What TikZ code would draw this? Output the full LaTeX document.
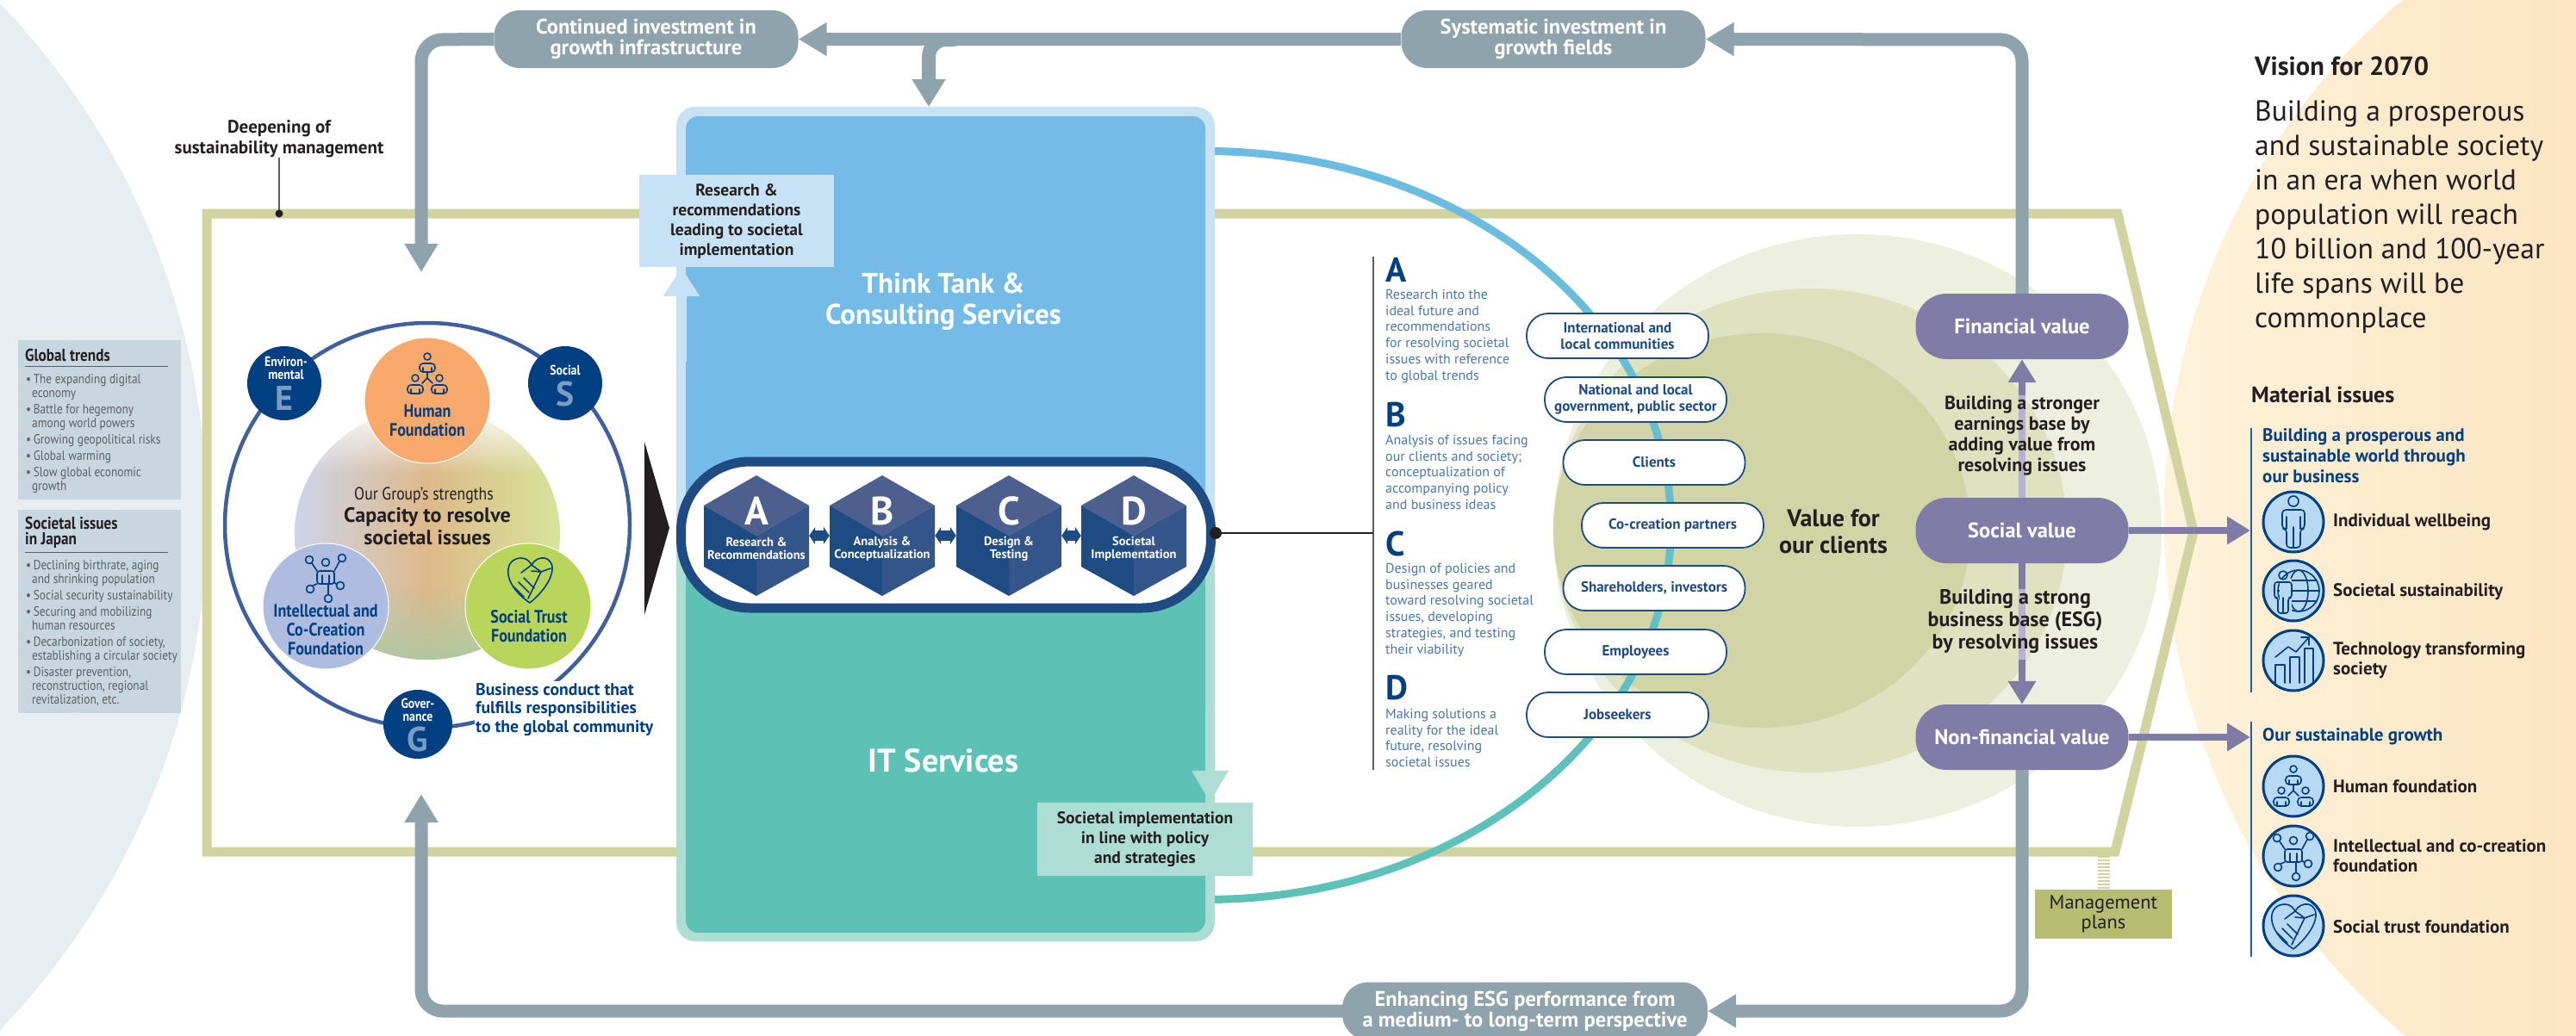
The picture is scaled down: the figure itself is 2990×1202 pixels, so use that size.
\documentclass[tikz,border=0pt]{standalone}
\usepackage{fontspec}
\setmainfont{PT Sans}
\newfontfamily\condfont[FakeStretch=0.86]{PT Sans}
\usetikzlibrary{arrows.meta,fadings}

\definecolor{paleblue}{HTML}{E6EEF2}
\definecolor{creamleft}{HTML}{FEF3DC}
\definecolor{creamright}{HTML}{FDE5C2}
\definecolor{frameolive}{HTML}{D1D4A0}
\definecolor{loopgrey}{HTML}{8EA3AB}
\definecolor{panelgrey}{HTML}{C8D6DF}
\definecolor{inktext}{HTML}{231F20}
\definecolor{softtext}{HTML}{5A5F63}
\definecolor{navy}{HTML}{003F82}
\definecolor{ringblue}{HTML}{3F5F9E}
\definecolor{lettertint}{HTML}{7C9CC4}
\definecolor{cubeleft}{HTML}{1E4B82}
\definecolor{cuberight}{HTML}{33558A}
\definecolor{cubetop}{HTML}{4C5F8E}
\definecolor{thinkblue}{HTML}{74BBE8}
\definecolor{thinkedge}{HTML}{C8E2F5}
\definecolor{itteal}{HTML}{5EC1B5}
\definecolor{itedge}{HTML}{AEDDD4}
\definecolor{curveblue}{HTML}{6CBCE3}
\definecolor{steptext}{HTML}{4A76A8}
\definecolor{valueouter}{HTML}{EDF0DE}
\definecolor{valuemiddle}{HTML}{DFE2C0}
\definecolor{valueinner}{HTML}{D1D4A5}
\definecolor{valuepurple}{HTML}{817BA7}
\definecolor{valuelight}{HTML}{B6B2D3}
\definecolor{planolive}{HTML}{B6BD72}
\definecolor{iconfill}{HTML}{B8D9F3}
\definecolor{issueline}{HTML}{1E5FA0}
\definecolor{humanorange}{HTML}{F9A96C}
\definecolor{intellilac}{HTML}{AEBCE0}
\definecolor{trustgreen}{HTML}{BAD55C}
\definecolor{blobleft}{HTML}{CFD4EA}
\definecolor{blobmid}{HTML}{DDB98A}
\definecolor{blobright}{HTML}{D6E49A}
\definecolor{blobfoot}{HTML}{AEC8A2}

\newcommand{\personmark}[2]{%
    \draw (#1,#2-8) circle (4pt);
    \draw[rounded corners=4pt] (#1-9,#2+10) -- (#1-9,#2+0) -- (#1+9,#2+0) -- (#1+9,#2+10) -- cycle;
    \draw (#1-5,#2+5) -- (#1-5,#2+10) (#1+5,#2+5) -- (#1+5,#2+10);
}

\tikzset{
    lineicon/.style={draw=navy, line width=1.6pt, line cap=round, line join=round},
    humanicon/.pic={
        \begin{scope}[lineicon]
            \personmark{0}{-12}
            \personmark{-14}{13}
            \personmark{14}{13}
            \draw (0,-1) -- (0,5) -- (-6,11) (0,5) -- (6,11);
        \end{scope}
    },
    networkicon/.pic={
        \begin{scope}[lineicon]
            \draw (0,-18) circle (4.5pt) (-19,-21) circle (4.5pt) (19,-23) circle (4.5pt)
                (-18,13) circle (4.5pt) (17,9) circle (4.5pt) (3,24) circle (4.5pt);
            \draw[rounded corners=3pt] (-10,7) -- (-10,-8) -- (10,-8) -- (10,7) -- cycle;
            \draw (-16,-17) -- (-10,-8) (16,-19) -- (10,-8) (-15,9) -- (-10,7) (13,8) -- (10,5)
                (3,19) -- (3,7) (-4,-3) -- (-4,7) (4,-3) -- (4,7);
        \end{scope}
    },
    trusticon/.pic={
        \begin{scope}[lineicon]
            \draw (0,27) .. controls (-34,4) and (-30,-25) .. (-10,-25) .. controls (-4,-25) and (0,-21) .. (2,-17)
                .. controls (5,-23) and (12,-26) .. (17,-25) .. controls (33,-21) and (28,4) .. (0,27);
            \draw (-10,-8) -- (2,-17) -- (13,-9) -- (24,-13) (2,-10) -- (13,-9) -- (-2,22)
                (-19,8) -- (-7,20) (-13,3) -- (-1,15) (-7,-2) -- (5,10);
        \end{scope}
    },
    bodyicon/.pic={
        \begin{scope}[lineicon]
            \draw (0,-24) circle (6pt);
            \draw[rounded corners=4pt] (-13,8) -- (-13,-14) -- (13,-14) -- (13,8) -- (8,8) -- (8,30) -- (-8,30) -- (-8,8) -- cycle;
            \draw (0,6) -- (0,30) (-8,-6) -- (-8,8) (8,-6) -- (8,8);
        \end{scope}
    },
    globeicon/.pic={
        \begin{scope}[lineicon]
            \draw (6,0) circle (24pt);
            \draw (6,0) ellipse [x radius=11pt, y radius=24pt];
            \draw (-18,0) -- (30,0) (-15,-12) -- (27,-12) (-15,12) -- (27,12);
            \fill[iconfill] (-16,-14) rectangle (-2,26);
            \draw (-12,-18) circle (5pt);
            \draw[rounded corners=3pt] (-22,8) -- (-22,-10) -- (-2,-10) -- (-2,8) -- (-6,8) -- (-6,26) -- (-18,26) -- (-18,8) -- cycle;
            \draw (-12,8) -- (-12,26);
        \end{scope}
    },
    charticon/.pic={
        \begin{scope}[lineicon]
            \draw (-21,26) -- (-21,5) -- (-10,5) -- (-10,26) (-4,26) -- (-4,-4) -- (7,-4) -- (7,26)
                (13,26) -- (13,-14) -- (23,-14) -- (23,26);
            \draw (-21,-4) -- (-6,-16) -- (3,-10) -- (18,-27);
            \draw (9,-27) -- (18,-27) -- (18,-18);
        \end{scope}
    },
    looparrow/.style={draw=loopgrey, line width=15pt, rounded corners=25pt, -{Triangle[length=33pt,width=37pt]}},
    pillgrey/.style={fill=loopgrey, text=white, rounded corners=30pt, minimum width=#1, minimum height=67pt,
        inner sep=0pt, align=center, font=\bfseries\fontsize{24.5}{24}\selectfont},
    stakepill/.style={draw=cubeleft, fill=white, line width=1.8pt, rounded corners=25pt, minimum width=211pt,
        minimum height=52pt, inner sep=0pt, align=center, text=cubeleft, font=\bfseries\fontsize{17}{19}\selectfont},
    valuepill/.style={fill=valuepurple, text=white, rounded corners=36pt, minimum width=247pt, minimum height=76pt,
        inner sep=0pt, font=\bfseries\fontsize{24.5}{26}\selectfont},
    valuearrow/.style={draw=valuepurple, line width=8pt, -{Triangle[length=27pt,width=31pt]}},
    valuetext/.style={inner sep=0pt, align=center, text=inktext, font=\bfseries\fontsize{22}{24}\selectfont},
    foundation/.style={circle, draw=white, line width=1pt, minimum size=146pt, inner sep=0pt},
    foundationtext/.style={inner sep=0pt, align=center, text=navy, font=\condfont\bfseries\fontsize{21}{22}\selectfont},
    esgbadge/.style={circle, fill=navy, minimum size=#1, inner sep=0pt},
    esgtext/.style={inner sep=0pt, align=center, text=white, font=\condfont\bfseries\fontsize{16}{15}\selectfont},
    esgletter/.style={inner sep=0pt, text=lettertint, font=\bfseries\fontsize{40}{40}\selectfont},
    panel/.style={fill=panelgrey, inner sep=0pt},
    paneltitle/.style={anchor=west, inner sep=0pt, align=left, text=inktext, font=\condfont\bfseries\fontsize{20}{18}\selectfont},
    paneltext/.style={anchor=north west, inner sep=0pt, align=left, text=softtext, font=\condfont\fontsize{15.5}{16}\selectfont},
    callbox/.style={inner sep=0pt, align=center, text=inktext, font=\bfseries\fontsize{19.5}{23}\selectfont},
    stepletter/.style={anchor=west, inner sep=0pt, text=navy, font=\bfseries\fontsize{40}{40}\selectfont},
    steptextbox/.style={anchor=north west, inner sep=0pt, align=left, text=steptext, font=\fontsize{16}{18.7}\selectfont},
    iconring/.style={circle, draw=navy, fill=iconfill, line width=3pt, minimum size=70pt, inner sep=0pt},
    issuetext/.style={anchor=west, inner sep=0pt, align=left, text=inktext, font=\bfseries\fontsize{21}{23}\selectfont},
    issuehead/.style={anchor=north west, inner sep=0pt, align=left, text=navy, font=\bfseries\fontsize{21}{24}\selectfont},
}

\begin{document}
\begin{tikzpicture}[x=1pt, y=-1pt]
    \clip (0,0) rectangle (2990,1202);

    % backgrounds
    \fill[paleblue] (-620,600) circle (860pt);
    \begin{scope}
        \clip (3302,600) circle (790pt);
        \shade[left color=creamleft, right color=creamright] (2500,0) rectangle (2990,1202);
    \end{scope}
    \fill[valueouter] (2156,616) ellipse [x radius=353pt, y radius=344pt];
    \fill[valuemiddle] (2101,616) ellipse [x radius=298pt, y radius=281pt];
    \fill[valueinner] (2045,616) ellipse [x radius=242pt, y radius=229pt];

    % management frame
    \draw[frameolive, line width=11pt, miter limit=10] (240,248) -- (2458,248) -- (2546,617) -- (2455,989) -- (240,989) -- cycle;

    % curve through the stakeholders
    \begin{scope}
        \clip (1400,150) rectangle (2000,1060);
        \shade[even odd rule, top color=curveblue, bottom color=itteal]
            (1400,610) ellipse [x radius=544pt, y radius=439pt]
            (1400,610) ellipse [x radius=535pt, y radius=430pt];
    \end{scope}

    % service block
    \fill[thinkedge] (785,621) [rounded corners=22pt] -- (785,124) -- (1410,124) [sharp corners] -- (1410,621) -- cycle;
    \fill[itedge] (785,621) [rounded corners=22pt] -- (785,1093) -- (1410,1093) [sharp corners] -- (1410,621) -- cycle;
    \fill[thinkblue] (796,621) [rounded corners=14pt] -- (796,135) -- (1399,135) [sharp corners] -- (1399,621) -- cycle;
    \fill[itteal] (796,621) [rounded corners=14pt] -- (796,1083) -- (1399,1083) [sharp corners] -- (1399,621) -- cycle;

    \node[inner sep=0pt, align=center, text=white, font=\bfseries\fontsize{33}{33}\selectfont] (thinktank) at (1095,350) {Think Tank \&\\[3pt]Consulting Services};
    \node[inner sep=0pt, text=white, font=\bfseries\fontsize{38}{38}\selectfont] (itservices) at (1095,883) {IT Services};

    % callouts on the block
    \coordinate (thinkstrip) at (791,420);
    \coordinate (itstrip) at (1404.5,820);
    \node[fill=thinkedge, minimum width=226pt, minimum height=107pt, callbox] (research) at (855,256.5) {Research \&\\recommendations\\leading to societal\\implementation};
    \node[fill=itedge, minimum width=250pt, minimum height=85pt, callbox] (implement) at (1329,974.5) {Societal implementation\\in line with policy\\and strategies};
    \draw[thinkedge, line width=11pt, -{Triangle[length=34pt,width=40pt]}] (thinkstrip) -- (thinkstrip |- research.south);
    \draw[itedge, line width=11pt, -{Triangle[length=37pt,width=40pt]}] (itstrip) -- (itstrip |- implement.north);

    % pill with the four cubes
    \fill[inktext] (748,513) -- (777,613) -- (748,714) -- cycle;
    \node[draw=cubeleft, fill=white, line width=11pt, rounded corners=80pt, minimum width=615pt, minimum height=170pt, inner sep=0pt] (cubepill) at (1098,621) {};
    \foreach \x/\name/\letter/\words in {878/A/A/{Research \&\\Recommendations}, 1024/B/B/{Analysis \&\\Conceptualization}, 1171/C/C/{Design \&\\Testing}, 1316/D/D/{Societal\\Implementation}} {
        \fill[cubetop] (\x,552) -- (\x+61,587) -- (\x,622) -- (\x-61,587) -- cycle;
        \fill[cubeleft] (\x-61,587) -- (\x,622) -- (\x,692) -- (\x-61,658) -- cycle;
        \fill[cuberight] (\x+61,587) -- (\x,622) -- (\x,692) -- (\x+61,658) -- cycle;
        \node[minimum width=122pt, minimum height=140pt, inner sep=0pt] (cube\name) at (\x,622) {};
        \node[inner sep=0pt, text=white, font=\bfseries\fontsize{46}{46}\selectfont] (letter\name) at (\x,593) {\letter};
        \node[inner sep=0pt, align=center, text=white, font=\bfseries\fontsize{14.5}{15}\selectfont] (label\name) at (\x,637) {\words};
    }
    \draw[cubeleft, line width=12pt, {Triangle[length=7pt,width=20pt]}-{Triangle[length=7pt,width=20pt]}] (cubeA.east) -- (cubeB.west);
    \draw[cubeleft, line width=12pt, {Triangle[length=7pt,width=20pt]}-{Triangle[length=7pt,width=20pt]}] (cubeB.east) -- (cubeC.west);
    \draw[cubeleft, line width=12pt, {Triangle[length=7pt,width=20pt]}-{Triangle[length=7pt,width=20pt]}] (cubeC.east) -- (cubeD.west);

    % steps A to D
    \coordinate (stepstop) at (1594,298);
    \coordinate (stepsbottom) at (1594,894);
    \coordinate (stepsjoin) at (1594,619);
    \draw[softtext, line width=1.6pt] (stepstop) -- (stepsbottom);
    \draw[inktext, line width=1.2pt] (cubepill.east |- stepsjoin) -- (stepsjoin);
    \fill[inktext] (cubepill.east |- stepsjoin) circle (7pt);
    \node[stepletter] (stepA) at (1608,313) {A};
    \node[steptextbox] (stepAtext) at (1608,336) {Research into the\\ideal future and\\recommendations\\for resolving societal\\issues with reference\\to global trends};
    \node[stepletter] (stepB) at (1608,481) {B};
    \node[steptextbox] (stepBtext) at (1608,505) {Analysis of issues facing\\our clients and society;\\conceptualization of\\accompanying policy\\and business ideas};
    \node[stepletter] (stepC) at (1608,631) {C};
    \node[steptextbox] (stepCtext) at (1608,654) {Design of policies and\\businesses geared\\toward resolving societal\\issues, developing\\strategies, and testing\\their viability};
    \node[stepletter] (stepD) at (1608,799) {D};
    \node[steptextbox] (stepDtext) at (1608,823) {Making solutions a\\reality for the ideal\\future, resolving\\societal issues};

    % stakeholders
    \node[stakepill] (communities) at (1877.5,390) {International and\\local communities};
    \node[stakepill] (government) at (1898.5,464) {National and local\\government, public sector};
    \node[stakepill] (clients) at (1920,537) {Clients};
    \node[stakepill] (partners) at (1941.5,610) {Co-creation partners};
    \node[stakepill] (investors) at (1920,683) {Shareholders, investors};
    \node[stakepill] (employees) at (1898.5,757) {Employees};
    \node[stakepill] (jobseekers) at (1877.5,830) {Jobseekers};
    \node[inner sep=0pt, align=center, text=inktext, font=\bfseries\fontsize{28}{31}\selectfont] (clientvalue) at (2128,617) {Value for\\our clients};

    % values
    \node[valuepill] (finval) at (2347,379) {Financial value};
    \node[valuepill] (social) at (2347,616) {Social value};
    \node[valuepill] (nonfin) at (2347,856) {Non-financial value};
    \node[pillgrey=353pt] (continued) at (750,45.5) {Continued investment in\\growth infrastructure};
    \node[pillgrey=353pt] (systematic) at (1803,45.5) {Systematic investment in\\growth fields};
    \node[pillgrey=424pt] (enhancing) at (1770,1174) {Enhancing ESG performance from\\a medium- to long-term perspective};

    \coordinate (capacity) at (489,316);
    \coordinate (governbase) at (489,922);
    \coordinate (boxtop) at (1078,124);
    \coordinate (branch) at (1110,46);
    \draw[looparrow] (finval.north) -- (2347,46) -- (systematic.east);
    \draw[looparrow] (systematic.west) -- (continued.east);
    \draw[looparrow] (continued.west) -- (489,46) -- (capacity);
    \draw[looparrow] (nonfin.south) -- (2347,1174) -- (enhancing.east);
    \draw[looparrow] (enhancing.west) -- (489,1174) -- (governbase);
    \draw[loopgrey, line width=16pt, rounded corners=20pt, -{Triangle[length=32pt,width=37pt]}] (branch) -- (1078,46) -- (boxtop);

    \coordinate (issuesjoin) at (2612,616);
    \coordinate (growthjoin) at (2612,856);
    \coordinate (strongstart) at (2347,459);
    \coordinate (basestart) at (2347,684);
    \coordinate (baseend) at (2347,766);
    \draw[valuearrow] (social.north) -- (finval.south);
    \draw[valuearrow] (social.south) -- (nonfin.north);
    \draw[valuearrow] (social.east) -- (issuesjoin);
    \draw[valuearrow] (nonfin.east) -- (growthjoin);
    \draw[valuelight, line width=8pt] (strongstart) -- (social.north);
    \draw[valuelight, line width=8pt] (basestart) -- (baseend);
    \node[valuetext] (strongtext) at (2347,506.5) {Building a stronger\\earnings base by\\adding value from\\resolving issues};
    \node[inner sep=0pt, align=center, text=inktext, font=\bfseries\fontsize{24}{26}\selectfont] (basetext) at (2339,722) {Building a strong\\business base (ESG)\\by resolving issues};

    % management plans
    \node[fill=planolive, minimum width=159pt, minimum height=57pt, inner sep=0pt, align=center, text=inktext, font=\fontsize{22.5}{23}\selectfont] (plans) at (2441.5,1061.5) {Management\\plans};
    \coordinate (planframe) at (2441.5,994);
    \draw[frameolive, line width=14pt, dash pattern=on 2pt off 2pt] (planframe) -- (plans.north);

    % left panels
    \node[panel, minimum width=189pt, minimum height=185pt] (globalpanel) at (115.5,487.5) {};
    \node[paneltitle] (globaltitle) at (29,412) {Global trends};
    \draw[softtext, line width=0.6pt] (29,425.5) -- (195,425.5);
    \node[paneltext] (globaltext) at (30,434) {\textbullet\,The expanding digital\\\hspace*{7pt}economy\\[3pt]\textbullet\,Battle for hegemony\\\hspace*{7pt}among world powers\\[3pt]\textbullet\,Growing geopolitical risks\\[3pt]\textbullet\,Global warming\\[3pt]\textbullet\,Slow global economic\\\hspace*{7pt}growth};
    \node[panel, minimum width=189pt, minimum height=236pt] (japanpanel) at (115.5,710) {};
    \node[paneltitle] (japantitle) at (29,618) {Societal issues\\in Japan};
    \draw[softtext, line width=0.6pt] (29,641) -- (195,641);
    \node[paneltext] (japantext) at (30,650) {\textbullet\,Declining birthrate, aging\\\hspace*{7pt}and shrinking population\\[3pt]\textbullet\,Social security sustainability\\[3pt]\textbullet\,Securing and mobilizing\\\hspace*{7pt}human resources\\[3pt]\textbullet\,Decarbonization of society,\\\hspace*{7pt}establishing a circular society\\[3pt]\textbullet\,Disaster prevention,\\\hspace*{7pt}reconstruction, regional\\\hspace*{7pt}revitalization, etc.};

    % deepening label
    \node[inner sep=0pt, align=center, text=inktext, font=\bfseries\fontsize{21}{24}\selectfont] (deepening) at (324,161) {Deepening of\\sustainability management};
    \coordinate (framemark) at (324,248);
    \draw[softtext, line width=1.2pt] (deepening.south) -- (framemark);
    \fill[inktext] (framemark) circle (4.5pt);

    % strengths
    \draw[ringblue, line width=4.5pt] (496,610) circle (235pt);
    \begin{scope}
        \clip (496,620) ellipse [x radius=154pt, y radius=146pt];
        \shade[left color=blobleft, right color=blobright, middle color=blobmid] (342,470) rectangle (650,770);
        \fill[white, path fading=south] (342,470) rectangle (650,550);
        \fill[blobfoot, path fading=north] (342,680) rectangle (650,770);
    \end{scope}
    \node[foundation, fill=humanorange] (humanfound) at (496,465) {};
    \node[foundation, fill=intellilac] (intelfound) at (378,704) {};
    \node[foundation, fill=trustgreen] (trustfound) at (613,704) {};
    \pic at (496,434) {humanicon};
    \pic at (378,671) {networkicon};
    \pic at (615,673) {trusticon};
    \node[foundationtext] (humantext) at (496,488.5) {Human\\Foundation};
    \node[foundationtext] (inteltext) at (378,731) {Intellectual and\\Co-Creation\\Foundation};
    \node[foundationtext] (trusttext) at (614,727.5) {Social Trust\\Foundation};
    \node[inner sep=0pt, text=inktext, font=\condfont\fontsize{20.5}{22}\selectfont] (groupstrength) at (492,575) {Our Group’s strengths};
    \node[inner sep=0pt, align=center, text=inktext, font=\bfseries\fontsize{24}{26}\selectfont] (capacitytext) at (496,611) {Capacity to resolve\\societal issues};

    \node[esgbadge=86pt] (envbadge) at (330,445) {};
    \node[esgbadge=86pt] (socbadge) at (656,445) {};
    \node[esgbadge=80pt] (govbadge) at (485,841) {};
    \node[esgtext] (envtext) at (332,427.5) {Environ-\\mental};
    \node[esgletter] (envletter) at (330,462) {E};
    \node[esgtext] (soctext) at (656,430) {Social};
    \node[esgletter] (socletter) at (656,457) {S};
    \node[esgtext] (govtext) at (485,824.5) {Gover-\\nance};
    \node[esgletter] (govletter) at (485,858) {G};
    \node[fill=white, inner xsep=1pt, inner ysep=2pt, anchor=north west, align=left, text=navy, font=\bfseries\fontsize{19.7}{21.5}\selectfont] (conduct) at (551,791) {Business conduct that\\fulfills responsibilities\\to the global community};

    % vision
    \node[anchor=west, inner sep=0pt, text=inktext, font=\bfseries\fontsize{30.5}{30}\selectfont] (visiontitle) at (2617,77) {Vision for 2070};
    \node[anchor=north west, inner sep=0pt, align=left, text=inktext, font=\fontsize{33.6}{40}\selectfont] (visiontext) at (2617,117) {Building a prosperous\\and sustainable society\\in an era when world\\population will reach\\10 billion and 100-year\\life spans will be\\commonplace};

    % material issues
    \node[anchor=west, inner sep=0pt, text=inktext, font=\bfseries\fontsize{26}{26}\selectfont] (material) at (2613,458) {Material issues};
    \coordinate (issuestop) at (2613,497);
    \coordinate (issuesbottom) at (2613,804);
    \coordinate (growthtop) at (2613,838);
    \coordinate (growthbottom) at (2613,1111);
    \draw[issueline, line width=1.5pt] (issuestop) -- (issuesbottom);
    \draw[issueline, line width=1.5pt] (growthtop) -- (growthbottom);
    \node[issuehead] (prosperhead) at (2626,497) {Building a prosperous and\\sustainable world through\\our business};
    \node[issuehead] (growthhead) at (2626,845) {Our sustainable growth};

    \node[iconring] (wellring) at (2662,606) {};
    \node[iconring] (sustainring) at (2662,686) {};
    \node[iconring] (techring) at (2662,767) {};
    \node[iconring] (humanring) at (2662,913) {};
    \node[iconring] (intelring) at (2662,994) {};
    \node[iconring] (trustring) at (2662,1075) {};
    \pic at (2662,606) {bodyicon};
    \pic at (2662,686) {globeicon};
    \pic at (2662,767) {charticon};
    \pic at (2662,913) {humanicon};
    \pic at (2662,994) {networkicon};
    \pic at (2662,1075) {trusticon};
    \node[issuetext] (welltext) at (2708,606) {Individual wellbeing};
    \node[issuetext] (sustaintext) at (2708,687) {Societal sustainability};
    \node[issuetext] (techtext) at (2708,767) {Technology transforming\\society};
    \node[issuetext] (humantextb) at (2708,913) {Human foundation};
    \node[issuetext] (inteltextb) at (2708,994) {Intellectual and co-creation\\foundation};
    \node[issuetext] (trusttextb) at (2708,1076) {Social trust foundation};
\end{tikzpicture}
\end{document}
